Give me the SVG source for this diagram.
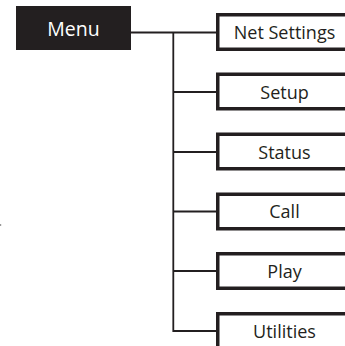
<svg xmlns="http://www.w3.org/2000/svg" width="345" height="346" viewBox="0 0 345 346">
<style>
.box{fill:#ffffff;stroke:#231f20;stroke-width:3.5}
.lbl{font-family:"Open Sans","Noto Sans","Liberation Sans",sans-serif;font-size:18px;fill:#231f20;text-anchor:middle}
.conn{fill:none;stroke:#231f20;stroke-width:1.8}
</style>
<rect width="345" height="346" fill="#ffffff"/>
<g id="connectors">
<path class="conn" d="M131,32.5 H217"/>
<path class="conn" d="M173.3,32.5 V331 H217"/>
<path class="conn" d="M173.3,92 H217"/>
<path class="conn" d="M173.3,152 H217"/>
<path class="conn" d="M173.3,211.5 H217"/>
<path class="conn" d="M173.3,271 H217"/>
</g>
<g id="menu">
<rect x="16" y="6" width="115" height="44" fill="#231f20"/>
<text x="73.5" y="35.7" class="lbl" style="fill:#ffffff;font-size:19.5px">Menu</text>
</g>
<g id="net-settings">
<rect class="box" x="217.75" y="14.75" width="135" height="34.5"/>
<text x="284.5" y="38.7" class="lbl">Net Settings</text>
</g>
<g id="setup">
<rect class="box" x="217.75" y="74.25" width="135" height="34.5"/>
<text x="284.5" y="98.6" class="lbl">Setup</text>
</g>
<g id="status">
<rect class="box" x="217.75" y="134.25" width="135" height="34.5"/>
<text x="284.5" y="158.6" class="lbl">Status</text>
</g>
<g id="call">
<rect class="box" x="217.75" y="194.25" width="135" height="34.5"/>
<text x="284.5" y="218.2" class="lbl">Call</text>
</g>
<g id="play">
<rect class="box" x="217.75" y="253.75" width="135" height="34.5"/>
<text x="284.5" y="277.8" class="lbl">Play</text>
</g>
<g id="utilities">
<rect class="box" x="217.75" y="313.75" width="135" height="34.5"/>
<text x="284.5" y="337.6" class="lbl">Utilities</text>
</g>
<rect x="0" y="224" width="1.2" height="2" fill="#9a9a9a"/>
</svg>
